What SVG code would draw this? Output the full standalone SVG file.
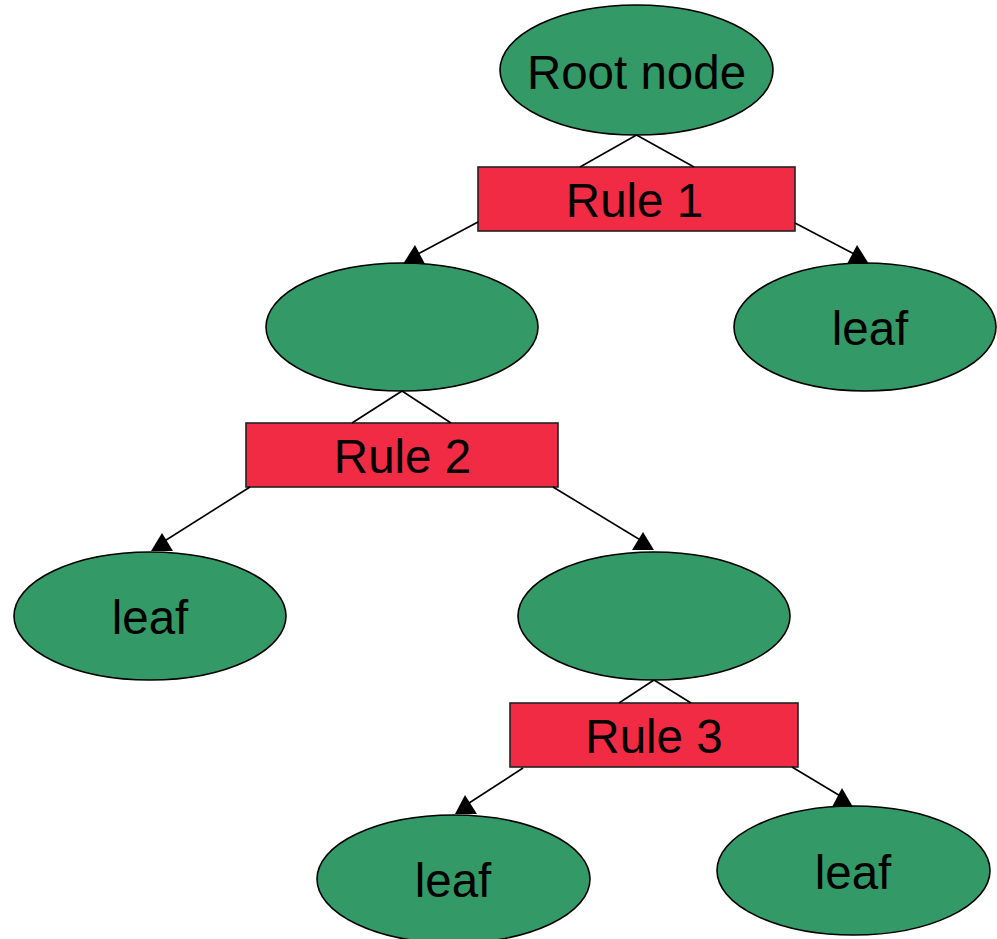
<svg xmlns="http://www.w3.org/2000/svg" width="997" height="939" viewBox="0 0 997 939">
  <style>
    .node ellipse { fill: #339966; stroke: #000; stroke-width: 1.6; }
    .rule rect { fill: #f22b44; stroke: #222; stroke-width: 1.6; }
    text { font-family: "Liberation Sans", Arial, sans-serif; font-size: 47.5px; fill: #000; text-anchor: middle; }
    .edge line { stroke: #000; stroke-width: 1.6; }
    .edge polygon { fill: #000; }
  </style>

  <!-- tree nodes -->
  <g id="root">
    <g class="node"><ellipse cx="636.5" cy="70" rx="136.5" ry="65"/></g>
    <text x="636.5" y="89">Root node</text>
  </g>
  <g id="rule1" class="rule">
    <rect x="478" y="167" width="317" height="64"/>
    <text x="634.5" y="217">Rule 1</text>
  </g>
  <g id="inner1" class="node">
    <ellipse cx="402" cy="327" rx="136" ry="64"/>
  </g>
  <g id="leaf1" class="node">
    <ellipse cx="865" cy="327" rx="131" ry="64"/>
    <text x="870" y="345">leaf</text>
  </g>
  <g id="rule2" class="rule">
    <rect x="246" y="423" width="312" height="64"/>
    <text x="402.5" y="473">Rule 2</text>
  </g>
  <g id="leaf2" class="node">
    <ellipse cx="150" cy="616" rx="136" ry="64"/>
    <text x="150" y="634">leaf</text>
  </g>
  <g id="inner2" class="node">
    <ellipse cx="654" cy="616" rx="136" ry="64"/>
  </g>
  <g id="rule3" class="rule">
    <rect x="510" y="703" width="288" height="64"/>
    <text x="654" y="753">Rule 3</text>
  </g>
  <g id="leaf3" class="node">
    <ellipse cx="453.5" cy="879" rx="136.5" ry="64"/>
    <text x="453" y="897">leaf</text>
  </g>
  <g id="leaf4" class="node">
    <ellipse cx="853.5" cy="870.5" rx="136.5" ry="64.5"/>
    <text x="853" y="889">leaf</text>
  </g>

  <!-- connectors -->
  <g id="connectors" class="edge">
    <line x1="636.5" y1="135" x2="580" y2="167"/>
    <line x1="636.5" y1="135" x2="694" y2="167"/>
    <line x1="478" y1="222" x2="416" y2="255"/>
    <polygon points="415,245 403,264 425,264"/>
    <line x1="795" y1="223" x2="856" y2="255"/>
    <polygon points="857,245 847,264 869,264"/>

    <line x1="402" y1="391" x2="352" y2="423"/>
    <line x1="402" y1="391" x2="451" y2="423"/>
    <line x1="250" y1="487" x2="163" y2="542"/>
    <polygon points="162,533 151,551 173,551"/>
    <line x1="553" y1="487" x2="642" y2="541"/>
    <polygon points="643,532 632,550 654,550"/>

    <line x1="654" y1="680" x2="619" y2="703"/>
    <line x1="654" y1="680" x2="691" y2="703"/>
    <line x1="523" y1="768" x2="466" y2="805"/>
    <polygon points="465,795 455,814 477,814"/>
    <line x1="792" y1="767" x2="842" y2="797"/>
    <polygon points="842,788 832,807 853,807"/>
  </g>
</svg>
